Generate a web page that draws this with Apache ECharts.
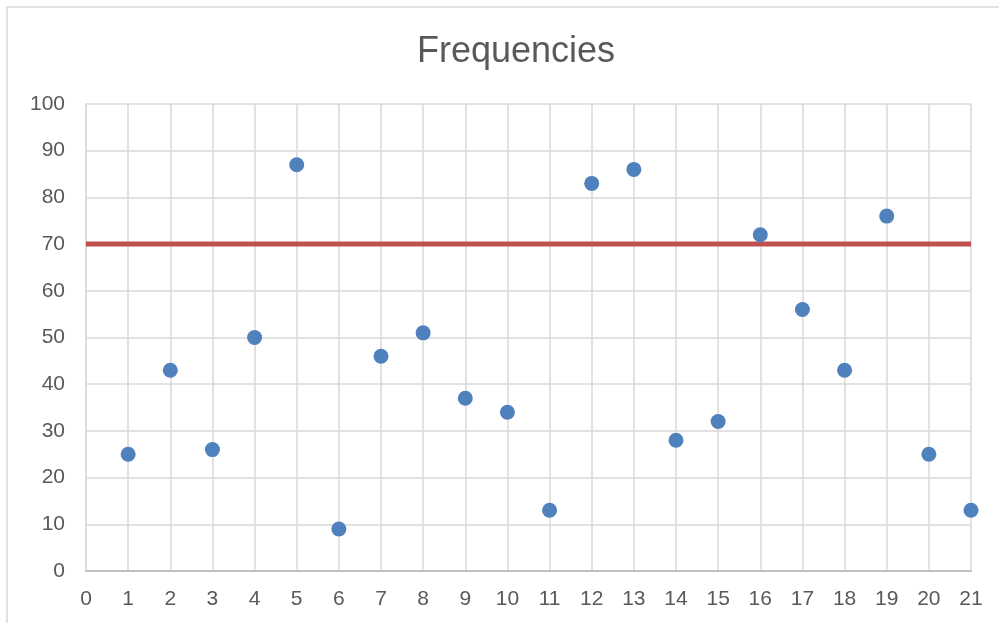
<!DOCTYPE html>
<html><head><meta charset="utf-8">
<script src="https://cdn.jsdelivr.net/npm/echarts@6/dist/echarts.min.js"></script>
<style>html,body{margin:0;padding:0;background:#fff}#c{width:999px;height:623px}</style>
</head><body><div id="c"></div>
<script>
const xValues = [1,2,3,4,5,6,7,8,9,10,11,12,13,14,15,16,17,18,19,20,21];
const frequencies = [25,43,26,50,87,9,46,51,37,34,13,83,86,28,32,72,56,43,76,25,13];
const threshold = 70;
const xMin = 0, xMax = 21;
const yMin = 0, yMax = 100, yStep = 10;

const points = xValues.map((x,i)=>[x,frequencies[i]]);
const chart = echarts.init(document.getElementById('c'));
chart.setOption({
  animation:false,
  backgroundColor:'#fff',
  title:{text:'Frequencies',left:511,textAlign:'center',top:29,textStyle:{fontFamily:'Liberation Sans, Arial',fontSize:36,fontWeight:'normal',color:'#595959'}},
  graphic:[{type:'rect',shape:{x:7,y:7,width:1000,height:640},style:{fill:'none',stroke:'#d9d9d9',lineWidth:1.5},silent:true,z:-1}],
  grid:{left:86,right:28,top:104,bottom:52,containLabel:false},
  xAxis:{type:'value',min:xMin,max:xMax,interval:1,
    axisLine:{show:true,lineStyle:{color:'#bfbfbf',width:2}},axisTick:{show:false},
    axisLabel:{color:'#595959',fontSize:21,fontFamily:'Liberation Sans, Arial',margin:18},
    splitLine:{show:true,lineStyle:{color:'#d9d9d9',width:1.5}}},
  yAxis:{type:'value',min:yMin,max:yMax,interval:yStep,
    axisLine:{show:true,lineStyle:{color:'#d9d9d9',width:1.5}},axisTick:{show:false},
    axisLabel:{color:'#595959',fontSize:21,fontFamily:'Liberation Sans, Arial',margin:21},
    splitLine:{show:true,lineStyle:{color:'#d9d9d9',width:1.5}}},
  series:[
    {type:'line',data:[[xMin,threshold],[xMax,threshold]],symbol:'none',lineStyle:{color:'#c0504d',width:5},z:2},
    {type:'scatter',data:points,symbolSize:15,itemStyle:{color:'#4f81bd',opacity:1},z:3}
  ]
});
</script></body></html>
